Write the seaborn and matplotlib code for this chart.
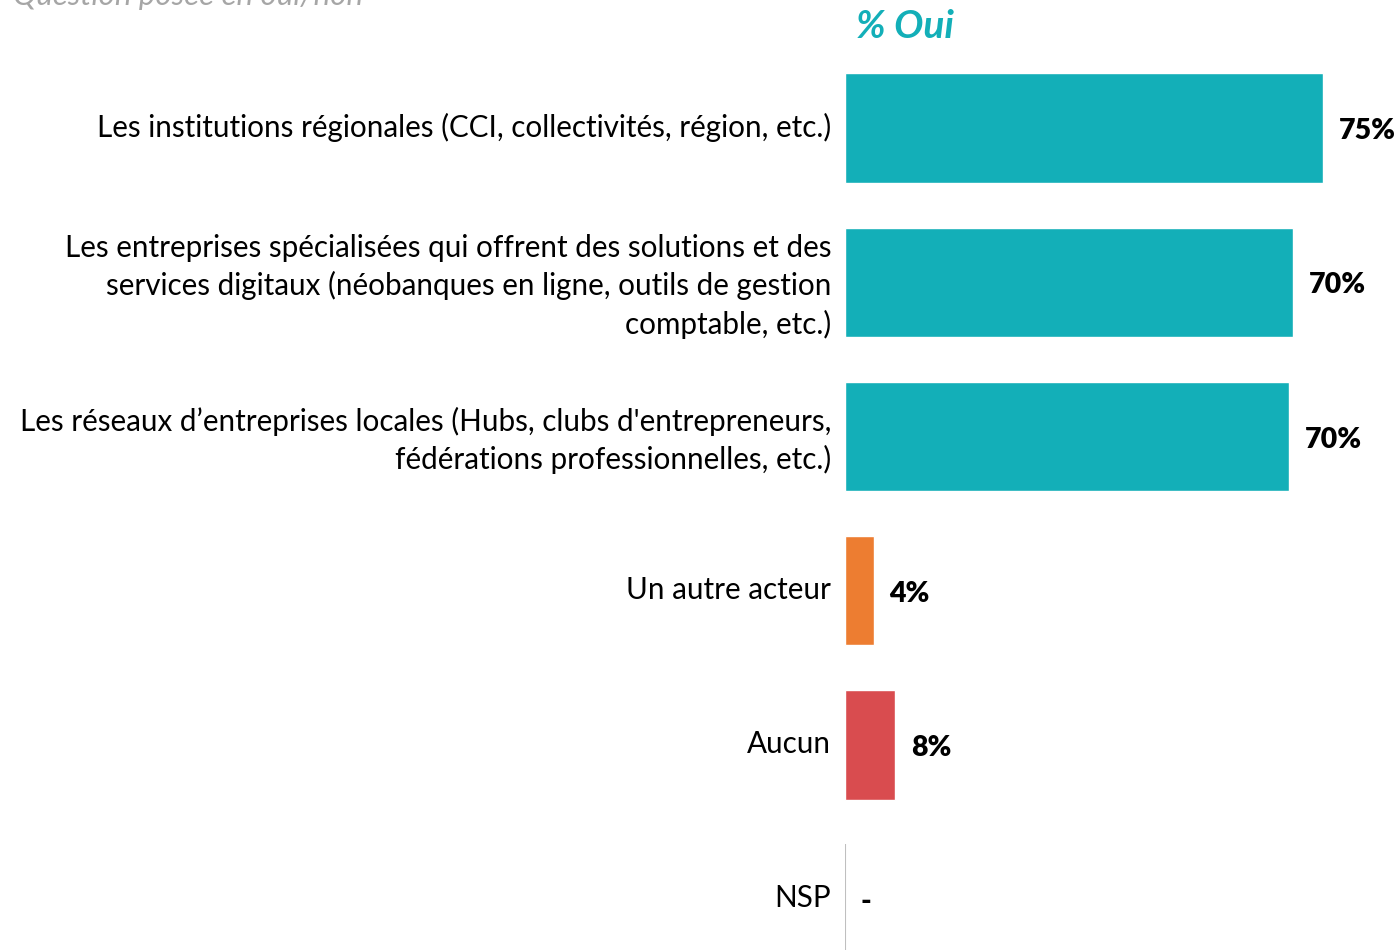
import numpy as np
import pandas as pd
import seaborn as sns
import matplotlib.pyplot as plt
import matplotlib.transforms as mtransforms

# Reference data
categories = [
    "Les institutions régionales (CCI, collectivités, région, etc.)",
    "Les entreprises spécialisées qui offrent des solutions et des\nservices digitaux (néobanques en ligne, outils de gestion\ncomptable, etc.)",
    "Les réseaux d’entreprises locales (Hubs, clubs d'entrepreneurs,\nfédérations professionnelles, etc.)",
    "Un autre acteur",
    "Aucun",
    "NSP",
]
values = [75.0, 70.3, 69.7, 4.5, 7.9, 0.0]
value_labels = ["75%", "70%", "70%", "4%", "8%", "-"]
bar_colors = ["#13AFB8", "#13AFB8", "#13AFB8", "#ED7D31", "#D94C4F", "#D94C4F"]

df = pd.DataFrame({"categorie": categories, "valeur": values})

sns.set_style("white")
plt.rcParams["font.family"] = ["Lato", "DejaVu Sans"]

fig = plt.figure(figsize=(13.99, 9.5), dpi=100)
ax = fig.add_axes([0.604, -0.0274, 0.3646, 0.9737])

sns.barplot(data=df, x="valeur", y="categorie", hue="categorie",
            palette=bar_colors, width=0.71, legend=False, ax=ax,
            saturation=1)

ax.set_xlim(0, 80)
ax.set_ylim(5.5, -0.5)
ax.set_xlabel("")
ax.set_ylabel("")
ax.set_xticks([])
sns.despine(ax=ax, left=True, bottom=True)

ax.tick_params(axis="y", length=0, pad=10, labelsize=21.3, labelcolor="black")
# nudge category labels up a little
nudge = mtransforms.ScaledTranslation(0, 3 / 100, fig.dpi_scale_trans)
for lbl in ax.get_yticklabels():
    lbl.set_multialignment("right")
    lbl.set_linespacing(1.38)
    lbl.set_transform(lbl.get_transform() + nudge)

# thin axis line only visible on the empty row
ax.vlines(0, 5 - 0.355, 5.5, color="#BFBFBF", lw=1.5)

for i, (v, t) in enumerate(zip(values, value_labels)):
    ax.text(v + 2.4, i + 0.02, t, va="center", ha="left", fontsize=20.5,
            fontweight="heavy", color="black")

fig.text(0.647, 0.972, "% Oui", color="#13AFB8", fontsize=28,
         fontweight="bold", fontstyle="italic", ha="center", va="center")
fig.text(0.009, 0.9947, "Question posée en oui/non", color="#A6A6A6",
         fontsize=22.5, fontstyle="italic", ha="left", va="baseline")

fig.savefig("out.png", dpi=100)
